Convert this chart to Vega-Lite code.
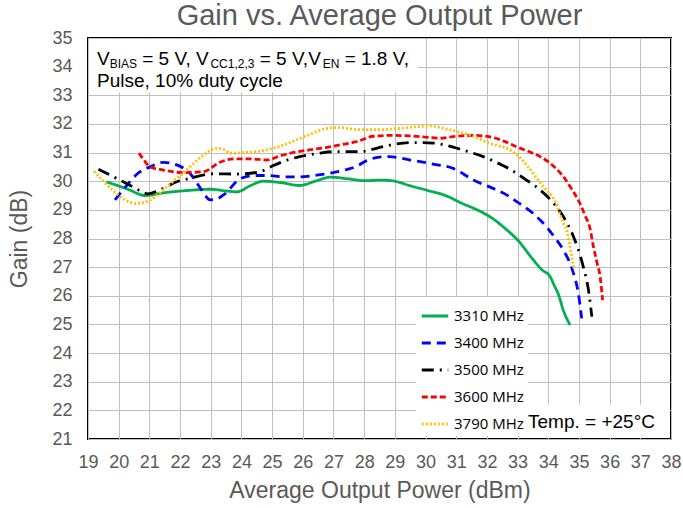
{
  "$schema": "https://vega.github.io/schema/vega-lite/v6.json",
  "width": 583,
  "height": 401,
  "autosize": "none",
  "padding": {"left": 88, "top": 38, "right": 12, "bottom": 69},
  "background": "white",
  "title": {"text": "Gain vs. Average Output Power", "font": "Liberation Sans", "fontSize": 29, "fontWeight": "normal", "color": "#595959", "anchor": "middle", "offset": -2},
  "config": {
    "view": {"stroke": "black", "strokeWidth": 2},
    "axis": {"grid": true, "gridColor": "#bfbfbf", "gridWidth": 1, "ticks": false, "domain": false, "labelFont": "Liberation Sans", "labelFontSize": 18, "labelColor": "#595959", "titleFont": "Liberation Sans", "titleFontSize": 23, "titleFontWeight": "normal", "titleColor": "#595959", "labelFlush": false, "labelOverlap": false}
  },
  "datasets": {
    "curves": [
      {"s": "3310 MHz", "x": 19.6, "y": 29.98}, {"s": "3310 MHz", "x": 20.3, "y": 29.72}, {"s": "3310 MHz", "x": 20.86, "y": 29.5}, {"s": "3310 MHz", "x": 21.5, "y": 29.6}, {"s": "3310 MHz", "x": 22.3, "y": 29.68}, {"s": "3310 MHz", "x": 22.98, "y": 29.72}, {"s": "3310 MHz", "x": 23.5, "y": 29.66}, {"s": "3310 MHz", "x": 23.85, "y": 29.63}, {"s": "3310 MHz", "x": 24.3, "y": 29.85}, {"s": "3310 MHz", "x": 24.7, "y": 30.0}, {"s": "3310 MHz", "x": 25.3, "y": 29.95}, {"s": "3310 MHz", "x": 25.9, "y": 29.85}, {"s": "3310 MHz", "x": 26.4, "y": 30.0}, {"s": "3310 MHz", "x": 26.9, "y": 30.14}, {"s": "3310 MHz", "x": 27.5, "y": 30.08}, {"s": "3310 MHz", "x": 28.0, "y": 30.02}, {"s": "3310 MHz", "x": 28.6, "y": 30.04}, {"s": "3310 MHz", "x": 29.0, "y": 30.0}, {"s": "3310 MHz", "x": 29.5, "y": 29.84}, {"s": "3310 MHz", "x": 30.03, "y": 29.69}, {"s": "3310 MHz", "x": 30.7, "y": 29.48}, {"s": "3310 MHz", "x": 31.2, "y": 29.22}, {"s": "3310 MHz", "x": 31.56, "y": 29.06}, {"s": "3310 MHz", "x": 32.1, "y": 28.76}, {"s": "3310 MHz", "x": 32.65, "y": 28.3}, {"s": "3310 MHz", "x": 33.0, "y": 27.95}, {"s": "3310 MHz", "x": 33.5, "y": 27.27}, {"s": "3310 MHz", "x": 33.8, "y": 26.9}, {"s": "3310 MHz", "x": 34.06, "y": 26.67}, {"s": "3310 MHz", "x": 34.2, "y": 26.35}, {"s": "3310 MHz", "x": 34.33, "y": 26.05}, {"s": "3310 MHz", "x": 34.49, "y": 25.5}, {"s": "3310 MHz", "x": 34.71, "y": 24.98},
      {"s": "3400 MHz", "x": 19.88, "y": 29.35}, {"s": "3400 MHz", "x": 20.3, "y": 29.9}, {"s": "3400 MHz", "x": 20.6, "y": 30.25}, {"s": "3400 MHz", "x": 21.02, "y": 30.5}, {"s": "3400 MHz", "x": 21.45, "y": 30.66}, {"s": "3400 MHz", "x": 21.89, "y": 30.57}, {"s": "3400 MHz", "x": 22.32, "y": 30.28}, {"s": "3400 MHz", "x": 22.7, "y": 29.7}, {"s": "3400 MHz", "x": 22.98, "y": 29.35}, {"s": "3400 MHz", "x": 23.2, "y": 29.38}, {"s": "3400 MHz", "x": 23.45, "y": 29.55}, {"s": "3400 MHz", "x": 23.95, "y": 30.08}, {"s": "3400 MHz", "x": 24.4, "y": 30.2}, {"s": "3400 MHz", "x": 24.82, "y": 30.2}, {"s": "3400 MHz", "x": 25.4, "y": 30.15}, {"s": "3400 MHz", "x": 25.9, "y": 30.15}, {"s": "3400 MHz", "x": 26.5, "y": 30.22}, {"s": "3400 MHz", "x": 26.99, "y": 30.3}, {"s": "3400 MHz", "x": 27.4, "y": 30.4}, {"s": "3400 MHz", "x": 27.75, "y": 30.52}, {"s": "3400 MHz", "x": 28.08, "y": 30.72}, {"s": "3400 MHz", "x": 28.5, "y": 30.84}, {"s": "3400 MHz", "x": 28.8, "y": 30.86}, {"s": "3400 MHz", "x": 29.5, "y": 30.74}, {"s": "3400 MHz", "x": 30.25, "y": 30.6}, {"s": "3400 MHz", "x": 30.9, "y": 30.45}, {"s": "3400 MHz", "x": 31.56, "y": 30.04}, {"s": "3400 MHz", "x": 32.2, "y": 29.75}, {"s": "3400 MHz", "x": 32.6, "y": 29.55}, {"s": "3400 MHz", "x": 32.97, "y": 29.29}, {"s": "3400 MHz", "x": 33.5, "y": 28.88}, {"s": "3400 MHz", "x": 33.94, "y": 28.41}, {"s": "3400 MHz", "x": 34.2, "y": 28.05}, {"s": "3400 MHz", "x": 34.49, "y": 27.6}, {"s": "3400 MHz", "x": 34.82, "y": 26.79}, {"s": "3400 MHz", "x": 34.98, "y": 26.09}, {"s": "3400 MHz", "x": 35.09, "y": 25.21},
      {"s": "3500 MHz", "x": 19.34, "y": 30.42}, {"s": "3500 MHz", "x": 20.04, "y": 30.04}, {"s": "3500 MHz", "x": 20.5, "y": 29.78}, {"s": "3500 MHz", "x": 20.96, "y": 29.56}, {"s": "3500 MHz", "x": 21.35, "y": 29.7}, {"s": "3500 MHz", "x": 21.89, "y": 29.98}, {"s": "3500 MHz", "x": 22.32, "y": 30.1}, {"s": "3500 MHz", "x": 23.08, "y": 30.26}, {"s": "3500 MHz", "x": 23.85, "y": 30.25}, {"s": "3500 MHz", "x": 24.6, "y": 30.33}, {"s": "3500 MHz", "x": 25.04, "y": 30.55}, {"s": "3500 MHz", "x": 25.5, "y": 30.74}, {"s": "3500 MHz", "x": 25.9, "y": 30.86}, {"s": "3500 MHz", "x": 26.5, "y": 30.97}, {"s": "3500 MHz", "x": 26.99, "y": 31.03}, {"s": "3500 MHz", "x": 27.86, "y": 31.03}, {"s": "3500 MHz", "x": 28.4, "y": 31.15}, {"s": "3500 MHz", "x": 28.84, "y": 31.26}, {"s": "3500 MHz", "x": 29.6, "y": 31.35}, {"s": "3500 MHz", "x": 30.25, "y": 31.33}, {"s": "3500 MHz", "x": 30.9, "y": 31.19}, {"s": "3500 MHz", "x": 31.4, "y": 31.03}, {"s": "3500 MHz", "x": 31.88, "y": 30.86}, {"s": "3500 MHz", "x": 32.3, "y": 30.66}, {"s": "3500 MHz", "x": 32.75, "y": 30.42}, {"s": "3500 MHz", "x": 33.29, "y": 30.04}, {"s": "3500 MHz", "x": 33.61, "y": 29.8}, {"s": "3500 MHz", "x": 34.15, "y": 29.26}, {"s": "3500 MHz", "x": 34.5, "y": 28.75}, {"s": "3500 MHz", "x": 34.82, "y": 28.07}, {"s": "3500 MHz", "x": 35.14, "y": 27.02}, {"s": "3500 MHz", "x": 35.31, "y": 26.2}, {"s": "3500 MHz", "x": 35.42, "y": 25.27},
      {"s": "3600 MHz", "x": 20.66, "y": 30.98}, {"s": "3600 MHz", "x": 20.85, "y": 30.7}, {"s": "3600 MHz", "x": 21.02, "y": 30.5}, {"s": "3600 MHz", "x": 21.45, "y": 30.39}, {"s": "3600 MHz", "x": 22.11, "y": 30.3}, {"s": "3600 MHz", "x": 22.76, "y": 30.33}, {"s": "3600 MHz", "x": 23.3, "y": 30.66}, {"s": "3600 MHz", "x": 23.74, "y": 30.78}, {"s": "3600 MHz", "x": 24.3, "y": 30.78}, {"s": "3600 MHz", "x": 24.82, "y": 30.74}, {"s": "3600 MHz", "x": 25.3, "y": 30.9}, {"s": "3600 MHz", "x": 25.85, "y": 31.03}, {"s": "3600 MHz", "x": 26.4, "y": 31.12}, {"s": "3600 MHz", "x": 26.88, "y": 31.2}, {"s": "3600 MHz", "x": 27.21, "y": 31.27}, {"s": "3600 MHz", "x": 27.75, "y": 31.38}, {"s": "3600 MHz", "x": 28.3, "y": 31.57}, {"s": "3600 MHz", "x": 28.9, "y": 31.6}, {"s": "3600 MHz", "x": 29.5, "y": 31.58}, {"s": "3600 MHz", "x": 30.0, "y": 31.54}, {"s": "3600 MHz", "x": 30.48, "y": 31.5}, {"s": "3600 MHz", "x": 31.0, "y": 31.57}, {"s": "3600 MHz", "x": 31.56, "y": 31.6}, {"s": "3600 MHz", "x": 32.1, "y": 31.55}, {"s": "3600 MHz", "x": 32.55, "y": 31.4}, {"s": "3600 MHz", "x": 32.97, "y": 31.2}, {"s": "3600 MHz", "x": 33.4, "y": 31.02}, {"s": "3600 MHz", "x": 33.83, "y": 30.8}, {"s": "3600 MHz", "x": 34.2, "y": 30.5}, {"s": "3600 MHz", "x": 34.49, "y": 30.16}, {"s": "3600 MHz", "x": 34.75, "y": 29.75}, {"s": "3600 MHz", "x": 35.03, "y": 29.23}, {"s": "3600 MHz", "x": 35.2, "y": 28.8}, {"s": "3600 MHz", "x": 35.36, "y": 28.35}, {"s": "3600 MHz", "x": 35.47, "y": 27.72}, {"s": "3600 MHz", "x": 35.6, "y": 27.1}, {"s": "3600 MHz", "x": 35.69, "y": 26.67}, {"s": "3600 MHz", "x": 35.77, "y": 25.85},
      {"s": "3790 MHz", "x": 19.2, "y": 30.35}, {"s": "3790 MHz", "x": 19.5, "y": 30.0}, {"s": "3790 MHz", "x": 19.8, "y": 29.69}, {"s": "3790 MHz", "x": 20.2, "y": 29.35}, {"s": "3790 MHz", "x": 20.56, "y": 29.22}, {"s": "3790 MHz", "x": 21.02, "y": 29.34}, {"s": "3790 MHz", "x": 21.56, "y": 29.8}, {"s": "3790 MHz", "x": 21.9, "y": 30.1}, {"s": "3790 MHz", "x": 22.32, "y": 30.5}, {"s": "3790 MHz", "x": 22.75, "y": 30.9}, {"s": "3790 MHz", "x": 23.19, "y": 31.15}, {"s": "3790 MHz", "x": 23.45, "y": 31.1}, {"s": "3790 MHz", "x": 23.63, "y": 30.98}, {"s": "3790 MHz", "x": 24.1, "y": 31.0}, {"s": "3790 MHz", "x": 24.71, "y": 31.07}, {"s": "3790 MHz", "x": 25.2, "y": 31.2}, {"s": "3790 MHz", "x": 25.69, "y": 31.4}, {"s": "3790 MHz", "x": 26.2, "y": 31.62}, {"s": "3790 MHz", "x": 26.78, "y": 31.84}, {"s": "3790 MHz", "x": 27.2, "y": 31.87}, {"s": "3790 MHz", "x": 27.8, "y": 31.8}, {"s": "3790 MHz", "x": 28.5, "y": 31.8}, {"s": "3790 MHz", "x": 29.17, "y": 31.85}, {"s": "3790 MHz", "x": 30.14, "y": 31.93}, {"s": "3790 MHz", "x": 30.8, "y": 31.79}, {"s": "3790 MHz", "x": 31.45, "y": 31.61}, {"s": "3790 MHz", "x": 32.1, "y": 31.32}, {"s": "3790 MHz", "x": 32.75, "y": 31.09}, {"s": "3790 MHz", "x": 33.1, "y": 30.8}, {"s": "3790 MHz", "x": 33.29, "y": 30.57}, {"s": "3790 MHz", "x": 33.6, "y": 30.15}, {"s": "3790 MHz", "x": 33.85, "y": 29.8}, {"s": "3790 MHz", "x": 34.22, "y": 29.3}, {"s": "3790 MHz", "x": 34.49, "y": 28.55}, {"s": "3790 MHz", "x": 34.6, "y": 28.3}, {"s": "3790 MHz", "x": 34.71, "y": 27.72}, {"s": "3790 MHz", "x": 34.84, "y": 26.9}
    ],
    "boxes": [
      {"x": 19.04, "x2": 29.75, "y": 33.1, "y2": 34.96},
      {"x": 33.2, "x2": 37.96, "y": 21.04, "y2": 22.2}
    ],
    "mainText": [
      {"x": 19.293, "y": 34.06, "t": "V"},
      {"x": 20.768, "y": 34.06, "t": "= 5 V, V"},
      {"x": 24.596, "y": 34.06, "t": "= 5 V,V"},
      {"x": 27.364, "y": 34.06, "t": "= 1.8 V,"},
      {"x": 19.293, "y": 33.3, "t": "Pulse, 10% duty cycle"},
      {"x": 33.34, "y": 21.38, "t": "Temp. = +25°C"}
    ],
    "subText": [
      {"x": 19.707, "y": 34.06, "t": "BIAS"},
      {"x": 22.99, "y": 34.06, "t": "CC1,2,3"},
      {"x": 26.647, "y": 34.06, "t": "EN"}
    ]
  },
  "encoding": {
    "x": {"field": "x", "type": "quantitative", "title": "Average Output Power (dBm)", "scale": {"domain": [19, 38], "nice": false, "zero": false},
      "axis": {"values": [19,20,21,22,23,24,25,26,27,28,29,30,31,32,33,34,35,36,37,38], "labelPadding": 14, "titlePadding": 8}},
    "y": {"field": "y", "type": "quantitative", "title": "Gain (dB)", "scale": {"domain": [21, 35], "nice": false, "zero": false},
      "axis": {"values": [21,22,23,24,25,26,27,28,29,30,31,32,33,34,35], "labelPadding": 16, "titlePadding": 20}}
  },
  "layer": [
    {
      "data": {"name": "boxes"},
      "mark": {"type": "rect", "fill": "white"},
      "encoding": {"x2": {"field": "x2"}, "y2": {"field": "y2"}}
    },
    {
      "data": {"name": "curves"},
      "mark": {"type": "line", "interpolate": "monotone", "strokeWidth": 2.8},
      "encoding": {
        "color": {"field": "s", "type": "nominal", "scale": {"domain": ["3310 MHz", "3400 MHz", "3500 MHz", "3600 MHz", "3790 MHz"], "range": ["#00b050", "#0000ff", "#000000", "#ff0000", "#ffc000"]},
          "legend": {"title": null, "orient": "none", "legendX": 328, "legendY": 259, "fillColor": "white", "padding": 4, "symbolType": "stroke", "symbolSize": 700, "symbolStrokeWidth": 3, "labelFont": "Open Sans", "labelFontSize": 15, "labelColor": "black", "labelOffset": 4, "rowPadding": 4}},
        "strokeDash": {"field": "s", "type": "nominal", "scale": {"domain": ["3310 MHz", "3400 MHz", "3500 MHz", "3600 MHz", "3790 MHz"], "range": [[1, 0], [9, 6], [12, 6, 2, 6], [6, 3], [2, 2]]},
          "legend": {"title": null, "orient": "none", "legendX": 328, "legendY": 259, "fillColor": "white", "padding": 4, "symbolType": "stroke", "symbolSize": 700, "symbolStrokeWidth": 3, "labelFont": "Open Sans", "labelFontSize": 15, "labelColor": "black", "labelOffset": 4, "rowPadding": 4}},
        "order": {"field": "x", "type": "quantitative"}
      }
    },
    {
      "data": {"name": "mainText"},
      "mark": {"type": "text", "align": "left", "baseline": "alphabetic", "font": "Liberation Sans", "fontSize": 19, "color": "black"},
      "encoding": {"text": {"field": "t"}}
    },
    {
      "data": {"name": "subText"},
      "mark": {"type": "text", "align": "left", "baseline": "alphabetic", "font": "Liberation Sans", "fontSize": 12, "dy": 3, "color": "black"},
      "encoding": {"text": {"field": "t"}}
    }
  ]
}
